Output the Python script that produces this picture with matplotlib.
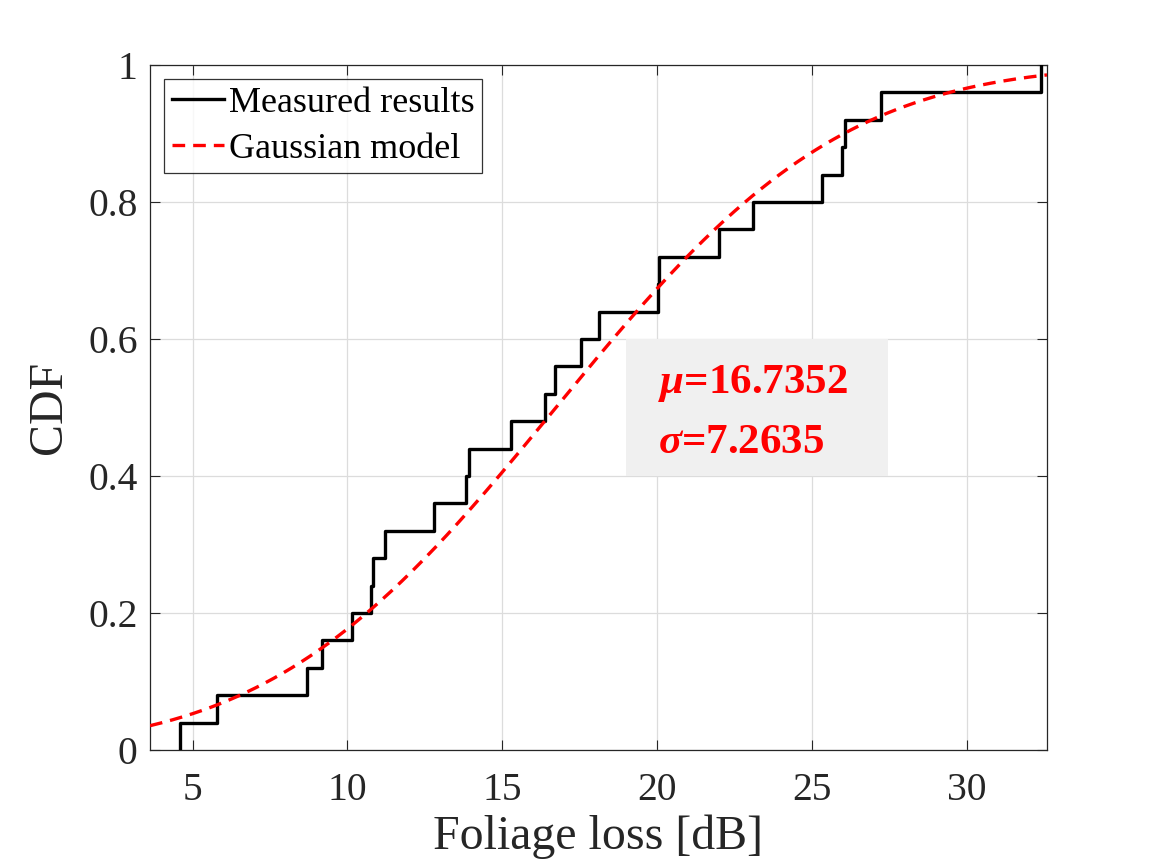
from matplotlib import pyplot as plt
from matplotlib.patches import Rectangle
import numpy as np
import math

# sorted foliage loss samples [dB]
loss_db = [4.59, 5.79, 8.68, 9.17, 10.14, 10.77, 10.83, 11.22, 12.81, 13.84,
           13.91, 15.27, 16.38, 16.71, 17.56, 18.11, 20.03, 20.08, 22.00, 23.10,
           25.34, 25.99, 26.06, 27.25, 32.42]
mu = 16.7352
sigma = 7.2635
x_ticks = [5, 10, 15, 20, 25, 30]
y_ticks = [0, 0.2, 0.4, 0.6, 0.8, 1]
y_tick_labels = ["0", "0.2", "0.4", "0.6", "0.8", "1"]

plt.rcParams.update({
    "font.family": "serif",
    "font.serif": ["Liberation Serif", "DejaVu Serif"],
    "mathtext.fontset": "custom",
    "mathtext.it": "Liberation Serif:italic:bold",
    "mathtext.rm": "Liberation Serif:bold",
})

AX_COL = "#262626"


def main():
    x = np.array(loss_db)
    n = len(x)
    y = np.arange(1, n + 1) / n

    fig = plt.figure(figsize=(11.57, 8.68), dpi=100)
    ax = fig.add_axes([150 / 1157, 1 - 750 / 868, 896.7 / 1157, 685 / 868])

    ax.step(np.r_[x[0], x], np.r_[0, y], where="post", color="black", lw=2.4,
            label="Measured results", zorder=3)

    xg = np.linspace(3.62, 32.6, 400)
    cdf = np.array([0.5 * (1 + math.erf((v - mu) / (sigma * math.sqrt(2)))) for v in xg])
    ax.plot(xg, cdf, color="red", lw=2.4, linestyle=(0, (3.8, 2.4)),
            label="Gaussian model", zorder=4)

    ax.set_xlim(3.62, 32.59)
    ax.set_ylim(0, 1)
    ax.set_xticks(x_ticks)
    ax.set_yticks(y_ticks)
    ax.set_yticklabels(y_tick_labels)
    ax.tick_params(direction="in", which="both", top=True, right=True,
                   labelsize=28.5, colors=AX_COL, length=7, width=0.8)
    ax.tick_params(axis="x", pad=16)
    ax.tick_params(axis="y", pad=9)
    for sp in ax.spines.values():
        sp.set_color(AX_COL)
        sp.set_linewidth(0.9)
    ax.grid(True, color="#dcdcdc", lw=0.9)
    ax.set_axisbelow(True)

    ax.set_xlabel("Foliage loss [dB]", fontsize=34.5, color=AX_COL, labelpad=4)
    ax.set_ylabel("CDF", fontsize=34.5, color=AX_COL, labelpad=12)

    leg = ax.legend(loc="upper left", fontsize=26, frameon=True, fancybox=False,
                    borderpad=0.2, handlelength=1.45, handletextpad=0.15,
                    labelspacing=0.35, borderaxespad=0.4)
    leg.get_frame().set_edgecolor("black")
    leg.get_frame().set_linewidth(0.9)

    # shaded parameter box
    fig.patches.append(Rectangle((626 / 1157, 1 - 476 / 868), 262 / 1157, 137 / 868,
                                 transform=fig.transFigure, facecolor="#f0f0f0",
                                 edgecolor="none", zorder=5))
    fig.text(658 / 1157, 1 - 383 / 868, r"$\mu$=%.4f" % mu, fontsize=31,
             fontweight="bold", color="red", va="center", zorder=6)
    fig.text(658 / 1157, 1 - 443 / 868, r"$\sigma$=%.4f" % sigma, fontsize=31,
             fontweight="bold", color="red", va="center", zorder=6)

    fig.savefig("out.png", dpi=100)


if __name__ == "__main__":
    main()
